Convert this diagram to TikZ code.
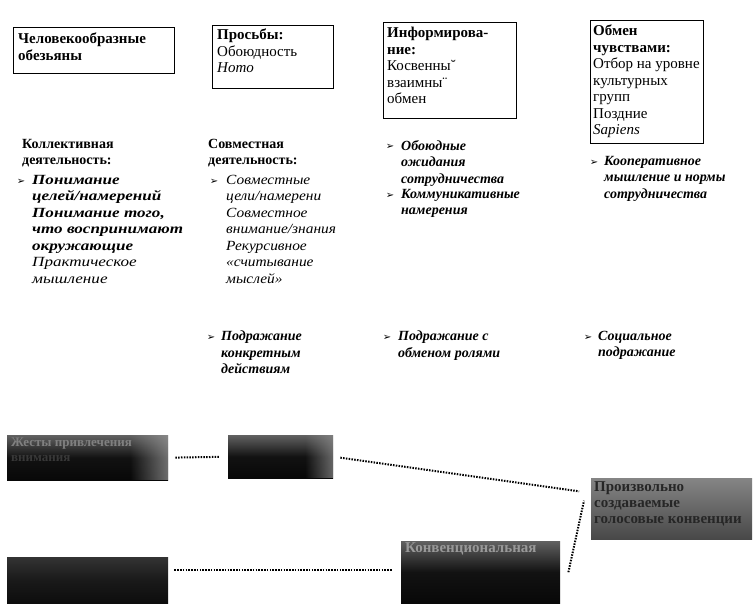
\documentclass[tikz,border=0pt]{standalone}
\usepackage{fontspec}
\setmainfont{Liberation Serif}
\newfontfamily\wideserif[FakeStretch=1.22]{Liberation Serif}
\newfontfamily\midserif[FakeStretch=1.1]{Liberation Serif}
\newfontfamily\dejavu{DejaVu Sans}
\usetikzlibrary{fadings}
\newcommand\mybul{{\dejavu\fontsize{10}{10}\selectfont ➢}}
\begin{document}
\begin{tikzpicture}[x=1pt,y=-1pt,
  topbox/.style={draw, line width=0.9pt, anchor=north west, inner sep=0pt},
  txt/.style={anchor=north west, inner sep=0pt, align=left, font=\fontsize{14}{16.5}\selectfont},
  boxt/.style={anchor=north west, inner sep=0pt, align=left, font=\fontsize{15}{16.5}\selectfont},
  widetxt/.style={anchor=north west, inner sep=0pt, align=left, font=\wideserif\fontsize{14}{16.5}\selectfont},
  midtxt/.style={anchor=north west, inner sep=0pt, align=left, font=\midserif\fontsize{14}{16.5}\selectfont},
  bul/.style={anchor=center, inner sep=0pt},
  dots/.style={line width=2pt, dash pattern=on 1.5pt off 1.3pt},
  darkbox/.style={anchor=north west, inner sep=0pt, top color=black!62, bottom color=black!97, middle color=black!93},
  greybox/.style={anchor=north west, inner sep=0pt, top color=black!48, bottom color=black!72},
  boxtxt/.style={anchor=north west, inner sep=0pt, align=left, font=\fontsize{15}{16}\selectfont\bfseries}
]
\fill[white] (0,0) rectangle (756,616);
\useasboundingbox (0,0) rectangle (756,616);

% ---- top boxes ----
\node[topbox, minimum width=161pt, minimum height=46pt] (b1) at (13,27) {};
\node[boxt] (b1t) at (18,33) {\textbf{Человекообразные}\\\textbf{обезьяны}};

\node[topbox, minimum width=121pt, minimum height=63pt] (b2) at (212,25) {};
\node[boxt] (b2t) at (217,29) {\textbf{Просьбы:}\\Обоюдность\\\textit{Homo}};

\node[topbox, minimum width=133pt, minimum height=96pt] (b3) at (383,22) {};
\node[boxt] (b3t) at (387,27) {\textbf{Информирова-}\\\textbf{ние:}\\Косвенны˘\\взаимны¨\\обмен};

\node[topbox, minimum width=113pt, minimum height=123pt] (b4) at (590,20) {};
\node[boxt] (b4t) at (593,25) {\textbf{Обмен}\\\textbf{чувствами:}\\Отбор на уровне\\культурных\\групп\\Поздние\\\textit{Sapiens}};

% ---- middle columns ----
\node[txt] (c1h) at (22,139) {\textbf{Коллективная}\\\textbf{деятельность:}};
\node[bul] (c1b) at (21,182) {\mybul};
\node[widetxt] (c1t) at (32,175) {\textbf{\textit{Понимание}}\\\textbf{\textit{целей/намерений}}\\\textbf{\textit{Понимание того,}}\\\textbf{\textit{что воспринимают}}\\\textbf{\textit{окружающие}}\\\textit{Практическое}\\\textit{мышление}};

\node[txt] (c2h) at (208,139) {\textbf{Совместная}\\\textbf{деятельность:}};
\node[bul] (c2b) at (214,182) {\mybul};
\node[midtxt] (c2t) at (226,175) {\textit{Совместные}\\\textit{цели/намерени}\\\textit{Совместное}\\\textit{внимание/знания}\\\textit{Рекурсивное}\\\textit{«считывание}\\\textit{мыслей»}};

\node[bul] (c3b1) at (390,147) {\mybul};
\node[txt] (c3t1) at (401,140) {\textbf{\textit{Обоюдные}}\\\textbf{\textit{ожидания}}\\\textbf{\textit{сотрудничества}}};
\node[bul] (c3b2) at (390,196) {\mybul};
\node[txt] (c3t2) at (401,189) {\textbf{\textit{Коммуникативные}}\\\textbf{\textit{намерения}}};

\node[bul] (c4b) at (594,163) {\mybul};
\node[txt] (c4t) at (604,156) {\textbf{\textit{Кооперативное}}\\\textbf{\textit{мышление и нормы}}\\\textbf{\textit{сотрудничества}}};

% ---- imitation row ----
\node[bul] (i1b) at (211,338) {\mybul};
\node[txt] (i1t) at (221,331) {\textbf{\textit{Подражание}}\\\textbf{\textit{конкретным}}\\\textbf{\textit{действиям}}};
\node[bul] (i2b) at (387,338) {\mybul};
\node[txt] (i2t) at (398,331) {\textbf{\textit{Подражание с}}\\\textbf{\textit{обменом ролями}}};
\node[bul] (i3b) at (588,338) {\mybul};
\node[txt] (i3t) at (598,331) {\textbf{\textit{Социальное}}\\\textbf{\textit{подражание}}};

% ---- bottom dark boxes ----
\node[darkbox, minimum width=161pt, minimum height=45pt] (d1) at (7,435) {};
\fill[black!40, opacity=0.7, path fading=west] (130,435) rectangle (168,480);
\node[boxtxt, font=\fontsize{13}{15}\selectfont\bfseries, text=black!50] (d1t) at (11,438) {Жесты привлечения\\\textcolor{black!78}{внимания}};

\node[darkbox, minimum width=105pt, minimum height=43pt] (d2) at (228,435) {};
\fill[black!45, opacity=0.7, path fading=west] (305,435) rectangle (333,478);

\node[darkbox, top color=black!80, bottom color=black!95, middle color=black!90, minimum width=161pt, minimum height=46pt] (d3) at (7,557) {};

\node[darkbox, minimum width=159pt, minimum height=62pt] (d4) at (401,541) {};
\node[boxtxt, text=black!40] (d4t) at (405,542) {Конвенциональная};

\node[greybox, minimum width=161pt, minimum height=61pt] (d5) at (591,478) {};
\node[boxtxt, text=black!85] (d5t) at (594,481) {Произвольно\\создаваемые\\голосовые конвенции};

% ---- dotted connectors ----
\draw[dots, shorten <=7pt, shorten >=9pt] (d1.east) -- (d2.west);
\draw[dots, shorten <=7pt, shorten >=12pt] (d2.east) -- (d5.169);
\draw[dots, shorten <=6pt, shorten >=9pt] ([yshift=10pt]d3.east) -- ([yshift=2pt]d4.west);
\draw[dots] ([xshift=8pt]d4.east) -- ([xshift=-7pt,yshift=8pt]d5.west);
\end{tikzpicture}
\end{document}
